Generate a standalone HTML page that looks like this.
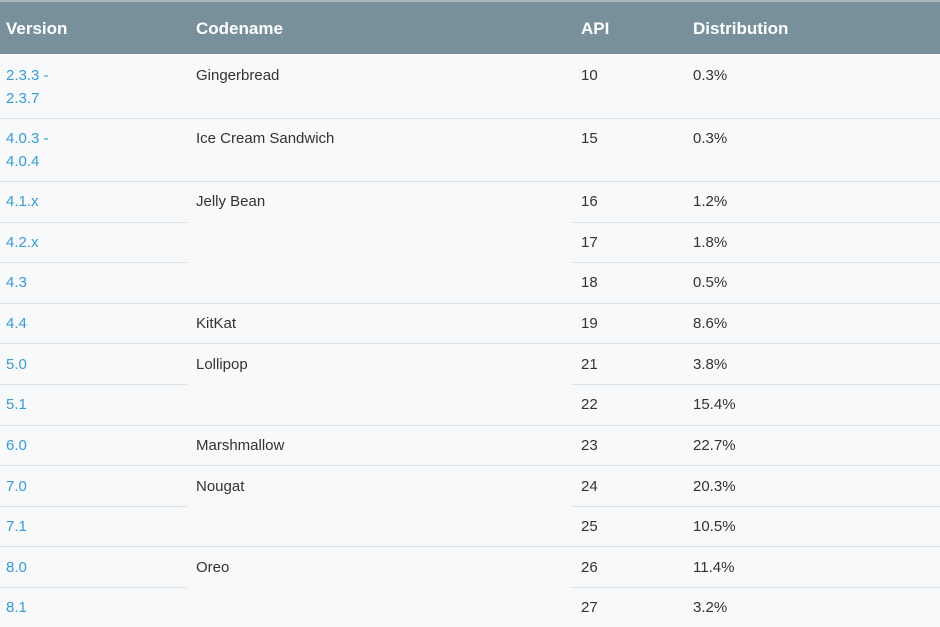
<!DOCTYPE html><html><head><style>
body{margin:0;width:940px;height:627px;background:#f7f9fa;font-family:"Liberation Sans",sans-serif;position:relative;overflow:hidden}
.h{position:absolute;left:0;top:0;width:940px;height:54px;background:#78909c;border-top:2px solid #a9b6bd;box-sizing:border-box}
.h span{position:absolute;top:17px;color:#fff;font-size:17px;font-weight:bold}
.t{position:absolute;font-size:15px;color:#333;line-height:23px;margin-top:1px}
.b{color:#3a9bd5}
.l{position:absolute;height:1px;background:#dde1e3}
</style></head><body>
<div class="h"><span style="left:6px">Version</span><span style="left:196px">Codename</span><span style="left:581px">API</span><span style="left:693px">Distribution</span></div>
<div class="l" style="top:118px;left:0;width:940px"></div>
<div class="l" style="top:181px;left:0;width:940px"></div>
<div class="l" style="top:222px;left:0;width:187px"></div><div class="l" style="top:222px;left:572px;width:368px"></div>
<div class="l" style="top:262px;left:0;width:187px"></div><div class="l" style="top:262px;left:572px;width:368px"></div>
<div class="l" style="top:303px;left:0;width:940px"></div>
<div class="l" style="top:343px;left:0;width:940px"></div>
<div class="l" style="top:384px;left:0;width:187px"></div><div class="l" style="top:384px;left:572px;width:368px"></div>
<div class="l" style="top:425px;left:0;width:940px"></div>
<div class="l" style="top:465px;left:0;width:940px"></div>
<div class="l" style="top:506px;left:0;width:187px"></div><div class="l" style="top:506px;left:572px;width:368px"></div>
<div class="l" style="top:546px;left:0;width:940px"></div>
<div class="l" style="top:587px;left:0;width:187px"></div><div class="l" style="top:587px;left:572px;width:368px"></div>

<div class="t b" style="left:6px;top:63px">2.3.3 -<br>2.3.7</div>
<div class="t" style="left:196px;top:63px">Gingerbread</div>
<div class="t" style="left:581px;top:63px">10</div><div class="t" style="left:693px;top:63px">0.3%</div>

<div class="t b" style="left:6px;top:126px">4.0.3 -<br>4.0.4</div>
<div class="t" style="left:196px;top:126px">Ice Cream Sandwich</div>
<div class="t" style="left:581px;top:126px">15</div><div class="t" style="left:693px;top:126px">0.3%</div>

<div class="t b" style="left:6px;top:189px">4.1.x</div><div class="t" style="left:196px;top:189px">Jelly Bean</div>
<div class="t" style="left:581px;top:189px">16</div><div class="t" style="left:693px;top:189px">1.2%</div>
<div class="t b" style="left:6px;top:230px">4.2.x</div>
<div class="t" style="left:581px;top:230px">17</div><div class="t" style="left:693px;top:230px">1.8%</div>
<div class="t b" style="left:6px;top:270px">4.3</div>
<div class="t" style="left:581px;top:270px">18</div><div class="t" style="left:693px;top:270px">0.5%</div>
<div class="t b" style="left:6px;top:311px">4.4</div><div class="t" style="left:196px;top:311px">KitKat</div>
<div class="t" style="left:581px;top:311px">19</div><div class="t" style="left:693px;top:311px">8.6%</div>
<div class="t b" style="left:6px;top:352px">5.0</div><div class="t" style="left:196px;top:352px">Lollipop</div>
<div class="t" style="left:581px;top:352px">21</div><div class="t" style="left:693px;top:352px">3.8%</div>
<div class="t b" style="left:6px;top:392px">5.1</div>
<div class="t" style="left:581px;top:392px">22</div><div class="t" style="left:693px;top:392px">15.4%</div>
<div class="t b" style="left:6px;top:433px">6.0</div><div class="t" style="left:196px;top:433px">Marshmallow</div>
<div class="t" style="left:581px;top:433px">23</div><div class="t" style="left:693px;top:433px">22.7%</div>
<div class="t b" style="left:6px;top:474px">7.0</div><div class="t" style="left:196px;top:474px">Nougat</div>
<div class="t" style="left:581px;top:474px">24</div><div class="t" style="left:693px;top:474px">20.3%</div>
<div class="t b" style="left:6px;top:514px">7.1</div>
<div class="t" style="left:581px;top:514px">25</div><div class="t" style="left:693px;top:514px">10.5%</div>
<div class="t b" style="left:6px;top:555px">8.0</div><div class="t" style="left:196px;top:555px">Oreo</div>
<div class="t" style="left:581px;top:555px">26</div><div class="t" style="left:693px;top:555px">11.4%</div>
<div class="t b" style="left:6px;top:595px">8.1</div>
<div class="t" style="left:581px;top:595px">27</div><div class="t" style="left:693px;top:595px">3.2%</div>
</body></html>
